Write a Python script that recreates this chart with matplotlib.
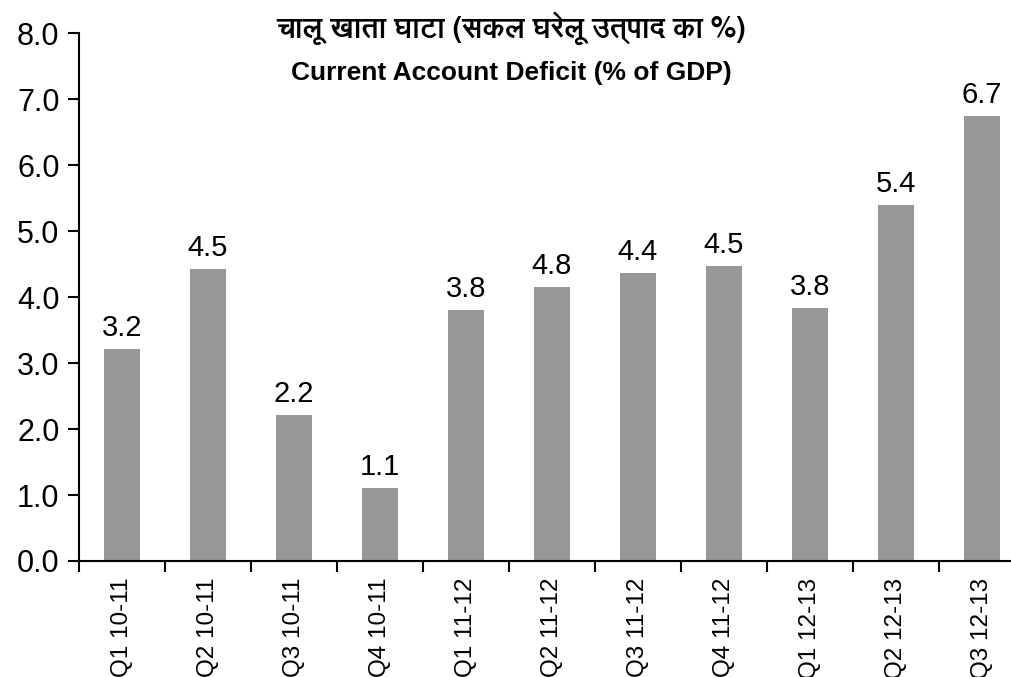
import matplotlib
matplotlib.use("Agg")
import matplotlib.pyplot as plt
from matplotlib import font_manager
from matplotlib.ft2font import FT2Font

# ---- data ----
categories = ["Q1 10-11", "Q2 10-11", "Q3 10-11", "Q4 10-11",
              "Q1 11-12", "Q2 11-12", "Q3 11-12", "Q4 11-12",
              "Q1 12-13", "Q2 12-13", "Q3 12-13"]
bar_values = [3.21, 4.43, 2.21, 1.10, 3.80, 4.16, 4.36, 4.47, 3.84, 5.40, 6.75]
bar_labels = ["3.2", "4.5", "2.2", "1.1", "3.8", "4.8", "4.4", "4.5", "3.8", "5.4", "6.7"]
y_ticks = [0, 1, 2, 3, 4, 5, 6, 7, 8]
title_hi = "चालू खाता घाटा (सकल घरेलू उत्पाद का %)"
title_en = "Current Account Deficit (% of GDP)"

# ---- find a font with Devanagari glyphs ----
deva_family = None
for fe in font_manager.fontManager.ttflist:
    try:
        cmap = FT2Font(fe.fname).get_charmap()
    except Exception:
        continue
    if 0x091A in cmap and 0x0932 in cmap:
        deva_family = fe.name
        if "Sans" in fe.name:
            break

plt.rcParams['font.family'] = ['Liberation Sans', 'DejaVu Sans']

fig = plt.figure(figsize=(10.11, 6.77), dpi=100)
ax = fig.add_axes([79 / 1011, 116 / 677, 946 / 1011, 527.7 / 677])

x = list(range(len(categories)))
ax.bar(x, bar_values, width=0.43, color="#979797", zorder=2)

for xi, v, lab in zip(x, bar_values, bar_labels):
    ax.annotate(lab, (xi, v), xytext=(0, 5), textcoords="offset points",
                ha="center", va="bottom", fontsize=21, color="black")

ax.set_xlim(-0.5, len(categories) - 0.5)
ax.set_ylim(0, 8)
ax.set_yticks(y_ticks)
ax.set_yticklabels([f"{t:.1f}" for t in y_ticks], fontsize=22)
ax.tick_params(axis="y", direction="out", length=8, width=1.5, pad=6, colors="black")

ax.set_xticks(x)
ax.set_xticklabels(categories, rotation=90, fontsize=17.5, va="top", ha="center")
ax.tick_params(axis="x", which="major", length=0, pad=12)
ax.set_xticks([i + 0.5 for i in x[:-1]] + [-0.5, len(categories) - 0.5], minor=True)
ax.tick_params(axis="x", which="minor", direction="out", length=8, width=1.5)

for s in ["top", "right"]:
    ax.spines[s].set_visible(False)
for s in ["left", "bottom"]:
    ax.spines[s].set_linewidth(1.5)
    ax.spines[s].set_color("black")

hi_fam = [deva_family, 'DejaVu Sans'] if deva_family else ['DejaVu Sans']
fig.text(511 / 1011, 1 - 28 / 677, title_hi, ha="center", va="center",
         fontsize=20.5, fontweight="bold", family=hi_fam)
fig.text(511 / 1011, 1 - 73 / 677, title_en, ha="center", va="center",
         fontsize=19, fontweight="bold")

fig.savefig("out.png", dpi=100)
